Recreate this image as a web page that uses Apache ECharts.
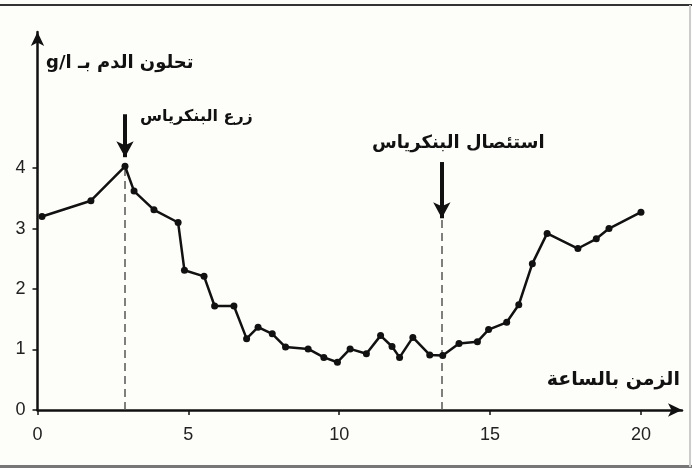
<!DOCTYPE html>
<html><head><meta charset="utf-8">
<script src="https://cdn.jsdelivr.net/npm/echarts@6/dist/echarts.min.js"></script>
<style>html,body{margin:0;padding:0;background:#fdfdf9;}#c{width:692px;height:468px;}</style>
</head><body><div id="c"></div>
<script>
const hours = [0.15, 1.77, 2.9, 3.2, 3.86, 4.66, 4.87, 5.52, 5.87, 6.51, 6.93, 7.31, 7.78, 8.22, 8.97, 9.49, 9.94, 10.36, 10.9, 11.37, 11.75, 12.0, 12.44, 13.0, 13.43, 13.97, 14.58, 14.95, 15.55, 15.95, 16.4, 16.89, 17.91, 18.52, 18.94, 20.0];
const glycemia = [3.2, 3.46, 4.03, 3.62, 3.31, 3.10, 2.31, 2.21, 1.72, 1.72, 1.18, 1.37, 1.26, 1.04, 1.01, 0.87, 0.79, 1.01, 0.93, 1.23, 1.05, 0.87, 1.2, 0.91, 0.9, 1.1, 1.13, 1.33, 1.45, 1.74, 2.42, 2.92, 2.67, 2.83, 3.0, 3.27];
const xTicks = [0, 5, 10, 15, 20];
const yTicks = [0, 1, 2, 3, 4];
const events = [
  { name: 'زرع البنكرياس', hour: 2.9, dashTop: 3.98, arrowTop: 4.89, arrowTip: 4.18 },
  { name: 'استئصال البنكرياس', hour: 13.4, dashTop: 3.15, arrowTop: 4.10, arrowTip: 3.17 }
];
const yName = 'g/l تحلون الدم بـ';
const xName = 'الزمن بالساعة';

const chart = echarts.init(document.getElementById('c'), null, {renderer: 'canvas'});
const arFont = '"DejaVu Sans", "Noto Sans", sans-serif';
const numFont = '"Liberation Sans", Arial, sans-serif';

const markData = [];
events.forEach(e => {
  markData.push([{coord: [e.hour, 0], lineStyle: {type: [8, 5], width: 1.5, color: '#555'}, symbol: 'none'}, {coord: [e.hour, e.dashTop], symbol: 'none'}]);
  markData.push([{coord: [e.hour, e.arrowTop], lineStyle: {type: 'solid', width: 4, color: '#111'}, symbol: 'none'}, {coord: [e.hour, e.arrowTip], symbol: 'arrow', symbolSize: [13, 16]}]);
});

chart.setOption({
  backgroundColor: '#fdfdf9',
  animation: false,
  grid: {left: 37.5, right: 10, top: 32, bottom: 58, containLabel: false},
  xAxis: {
    type: 'value', min: 0, max: 21.36,
    splitLine: {show: false},
    axisLine: {onZero: false, lineStyle: {color: '#111', width: 2.5}, symbol: ['none', 'arrow'], symbolSize: [10, 14]},
    axisTick: {show: true, length: 5, lineStyle: {color: '#111', width: 1.5}, customValues: xTicks},
    axisLabel: {customValues: xTicks, fontSize: 18, color: '#222', fontFamily: numFont, margin: 16}
  },
  yAxis: {
    type: 'value', min: 0, max: 6.25,
    splitLine: {show: false},
    axisLine: {show: true, onZero: false, lineStyle: {color: '#111', width: 2.5}, symbol: ['none', 'arrow'], symbolSize: [10, 14]},
    axisTick: {show: true, length: 5, lineStyle: {color: '#111', width: 1.5}, customValues: yTicks},
    axisLabel: {customValues: yTicks, fontSize: 18, color: '#222', fontFamily: numFont, margin: 12}
  },
  series: [{
    type: 'line',
    data: hours.map((h, i) => [h, glycemia[i]]),
    symbol: 'circle', symbolSize: 7,
    lineStyle: {color: '#111', width: 2.5},
    itemStyle: {color: '#111'},
    z: 5,
    markLine: {silent: true, animation: false, label: {show: false}, symbol: 'none', data: markData}
  }],
  graphic: [
    {type: 'rect', shape: {x: 0, y: 4, width: 692, height: 2}, style: {fill: '#333'}},
    {type: 'rect', shape: {x: 0, y: 465, width: 692, height: 3}, style: {fill: '#777'}},
    {type: 'rect', shape: {x: 689, y: 5, width: 2, height: 462}, style: {fill: '#ccc'}},
    {type: 'text', left: 46, top: 54, style: {text: yName, font: 'bold 18px ' + arFont, fill: '#111'}},
    {type: 'text', right: 12, top: 371, style: {text: xName, font: 'bold 19px ' + arFont, fill: '#111'}},
    {type: 'text', left: 140, top: 109, style: {text: events[0].name, font: 'bold 16px ' + arFont, fill: '#111'}},
    {type: 'text', left: 372, top: 134, style: {text: events[1].name, font: 'bold 18px ' + arFont, fill: '#111'}}
  ]
});
</script></body></html>
